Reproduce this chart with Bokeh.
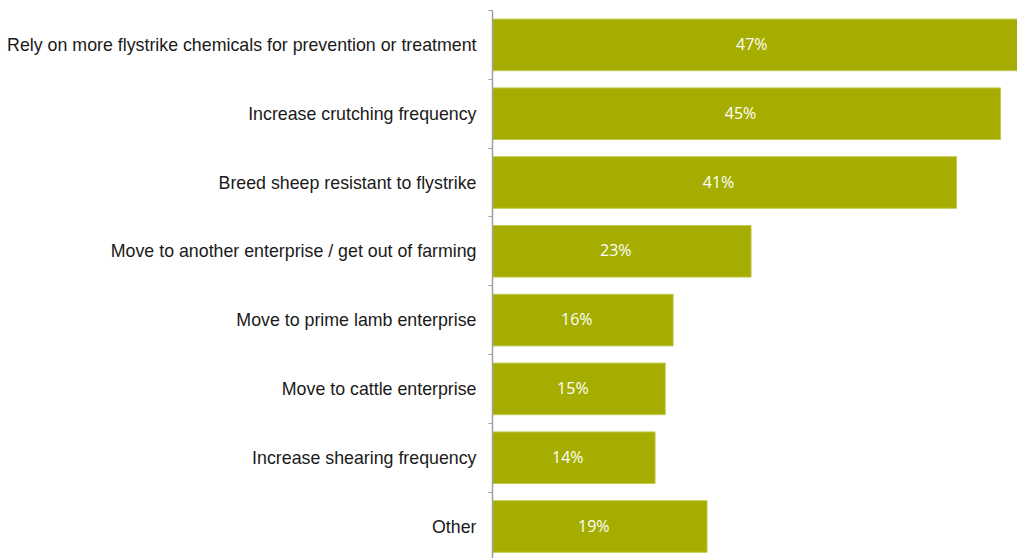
from bokeh.plotting import figure
from bokeh.models import Range1d, FixedTicker, ColumnDataSource, LinearAxis
from bokeh.core.properties import value
from bokeh.embed import file_html
from bokeh.resources import INLINE

categories = [
    "Rely on more flystrike chemicals for prevention or treatment",
    "Increase crutching frequency",
    "Breed sheep resistant to flystrike",
    "Move to another enterprise / get out of farming",
    "Move to prime lamb enterprise",
    "Move to cattle enterprise",
    "Increase shearing frequency",
    "Other",
]
values = [47, 45, 41.1, 22.9, 16, 15.3, 14.4, 19]
labels = ["47%", "45%", "41%", "23%", "16%", "15%", "14%", "19%"]

n = len(categories)
ypos = [n - i - 0.5 for i in range(n)]

src = ColumnDataSource(dict(
    y=ypos, v=values, mid=[v / 2 for v in values], lab=labels,
))

p = figure(width=1017, height=558, output_backend="svg", toolbar_location=None,
           x_range=Range1d(0, 46.5), y_range=Range1d(n - 548 / 68.8, n),
           min_border_left=492, min_border_right=0, min_border_top=10,
           min_border_bottom=0, y_axis_location=None, x_axis_location=None)
p.outline_line_color = None
p.grid.visible = False
p.background_fill_color = "white"
p.border_fill_color = "white"

p.hbar(y="y", right="v", left=0, height=0.75, source=src,
       fill_color="#A5AD00", line_color="#C2C850", line_width=1)

p.text(x="mid", y="y", text="lab", source=src, text_color="white",
       text_font=value("Open Sans"), text_font_size="16px",
       text_align="center", text_baseline="middle", x_offset=-6, y_offset=-1)

yaxis = LinearAxis(
    ticker=FixedTicker(ticks=ypos, minor_ticks=list(range(n + 1))),
    major_label_overrides={y: c for y, c in zip(ypos, categories)},
)
yaxis.major_tick_line_color = None
yaxis.major_tick_out = 0
yaxis.major_tick_in = 0
yaxis.minor_tick_out = 4
yaxis.minor_tick_in = 0
yaxis.minor_tick_line_color = "#A0A0A0"
yaxis.axis_line_color = "#A0A0A0"
yaxis.axis_line_width = 1.5
yaxis.major_label_standoff = 12
yaxis.major_label_text_font = "Liberation Sans"
yaxis.major_label_text_font_size = "17.8px"
yaxis.major_label_text_color = "#1a1a1a"
p.add_layout(yaxis, "left")

open("out.html", "w").write(file_html(p, INLINE))
